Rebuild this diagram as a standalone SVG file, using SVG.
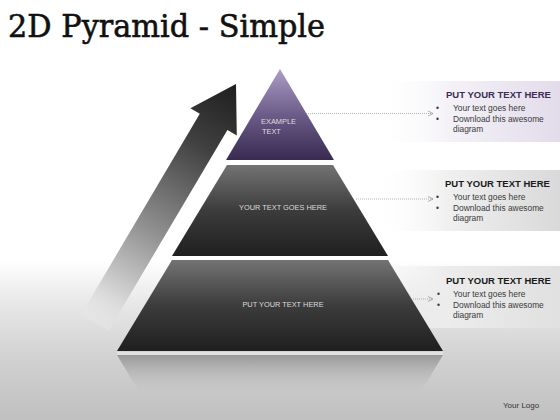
<svg xmlns="http://www.w3.org/2000/svg" width="560" height="420" viewBox="0 0 560 420">
<defs>
<linearGradient id="bg" x1="0" y1="0" x2="0" y2="420" gradientUnits="userSpaceOnUse">
<stop offset="0" stop-color="#ffffff"/>
<stop offset="0.62" stop-color="#ffffff"/>
<stop offset="0.72" stop-color="#e8e8e8"/>
<stop offset="0.86" stop-color="#d0d0d0"/>
<stop offset="1" stop-color="#c0c0c0"/>
</linearGradient>
<linearGradient id="grey" x1="0" y1="0" x2="0" y2="1">
<stop offset="0" stop-color="#737373"/>
<stop offset="0.5" stop-color="#3c3c3c"/>
<stop offset="1" stop-color="#1f1f1f"/>
</linearGradient>
<linearGradient id="purple" x1="0" y1="0" x2="0" y2="1">
<stop offset="0" stop-color="#ab9ec6"/>
<stop offset="0.5" stop-color="#6c5c89"/>
<stop offset="1" stop-color="#382a50"/>
</linearGradient>
<linearGradient id="refl" x1="0" y1="355" x2="0" y2="395" gradientUnits="userSpaceOnUse">
<stop offset="0" stop-color="#8a8a8a" stop-opacity="0.8"/>
<stop offset="1" stop-color="#c0c0c0" stop-opacity="0"/>
</linearGradient>
<linearGradient id="arrowg" x1="236" y1="84" x2="92" y2="326" gradientUnits="userSpaceOnUse">
<stop offset="0" stop-color="#1e1e1e"/>
<stop offset="0.25" stop-color="#404040"/>
<stop offset="0.6" stop-color="#909090"/>
<stop offset="0.85" stop-color="#d2d2d2"/>
<stop offset="1" stop-color="#ececec" stop-opacity="0.3"/>
</linearGradient>
<linearGradient id="panelP" x1="0" y1="0" x2="1" y2="0">
<stop offset="0" stop-color="#ffffff" stop-opacity="0"/>
<stop offset="0.4" stop-color="#f4f2f7"/>
<stop offset="1" stop-color="#e2dcea"/>
</linearGradient>
<linearGradient id="panelG" x1="0" y1="0" x2="1" y2="0">
<stop offset="0" stop-color="#ffffff" stop-opacity="0"/>
<stop offset="0.4" stop-color="#f0f0f0"/>
<stop offset="1" stop-color="#d9d9d9"/>
</linearGradient>
<linearGradient id="panelG3" x1="0" y1="0" x2="1" y2="0">
<stop offset="0" stop-color="#f4f4f4" stop-opacity="0"/>
<stop offset="0.4" stop-color="#ececec"/>
<stop offset="1" stop-color="#e0e0e0"/>
</linearGradient>
<marker id="chev" viewBox="0 0 6 6" refX="5.5" refY="3" markerWidth="6" markerHeight="6" markerUnits="userSpaceOnUse" orient="auto">
<path d="M0.5,0.5 L5.5,3 L0.5,5.5" fill="none" stroke="#9a9a9a" stroke-width="0.8"/>
</marker>
</defs>
<style>
.tier{font-family:"Liberation Sans",Arial,sans-serif;font-size:7.4px;fill:#dcdcdc;text-anchor:middle}
.head{font-family:"Liberation Sans",Arial,sans-serif;font-size:9.5px;font-weight:bold;fill:#1a1a1a}
.body{font-family:"Liberation Sans",Arial,sans-serif;font-size:8.4px;fill:#3a3a3a}
.conn{fill:none;stroke:#a0a0a0;stroke-width:0.8;stroke-dasharray:1 1}
</style>
<rect x="0" y="0" width="560" height="420" fill="url(#bg)"/>
<text x="8" y="37" font-family="'DejaVu Serif','Liberation Serif',serif" font-size="32" fill="#111" stroke="#111" stroke-width="0.6" textLength="317" lengthAdjust="spacingAndGlyphs">2D Pyramid - Simple</text>

<g id="panel-1">
<rect x="372" y="81" width="188" height="61" fill="url(#panelP)"/>
<text class="head" x="446" y="98" style="fill:#3b2c55">PUT YOUR TEXT HERE</text>
<text class="body" x="436" y="111">•</text>
<text class="body" x="453" y="111">Your text goes here</text>
<text class="body" x="436" y="121.5">•</text>
<text class="body" x="453" y="121.5">Download this awesome</text>
<text class="body" x="453" y="132">diagram</text>
</g>
<g id="panel-2">
<rect x="372" y="170" width="188" height="61" fill="url(#panelG)"/>
<text class="head" x="445" y="187">PUT YOUR TEXT HERE</text>
<text class="body" x="436" y="200">•</text>
<text class="body" x="453" y="200">Your text goes here</text>
<text class="body" x="436" y="210.5">•</text>
<text class="body" x="453" y="210.5">Download this awesome</text>
<text class="body" x="453" y="221">diagram</text>
</g>
<g id="panel-3">
<rect x="372" y="266" width="188" height="62" fill="url(#panelG3)"/>
<text class="head" x="446" y="284">PUT YOUR TEXT HERE</text>
<text class="body" x="437" y="297">•</text>
<text class="body" x="453" y="297">Your text goes here</text>
<text class="body" x="437" y="307.5">•</text>
<text class="body" x="453" y="307.5">Download this awesome</text>
<text class="body" x="453" y="318">diagram</text>
</g>

<g id="arrow">
<polygon points="236,84 236.8,135.6 227.4,130 108.8,330.6 81.2,314.4 199.8,113.8 190.4,108.2" fill="url(#arrowg)"/>
</g>

<g id="reflection">
<rect x="117" y="352" width="326" height="3" fill="#e2e2e2"/>
<polygon points="117,355 443,355 419,395 141,395" fill="url(#refl)"/>
</g>

<g id="tier-bottom">
<polygon points="172,260 388,260 443,351 117,351" fill="url(#grey)"/>
<text class="tier" x="283" y="307">PUT YOUR TEXT HERE</text>
</g>
<g id="tier-middle">
<polygon points="227,165 333,165 388,256 172,256" fill="url(#grey)"/>
<text class="tier" x="283" y="210">YOUR TEXT GOES HERE</text>
</g>
<g id="tier-top">
<polygon points="280,69 334,160 226,160" fill="url(#purple)"/>
<text class="tier" x="278.5" y="124">EXAMPLE</text>
<text class="tier" x="262" y="134" style="text-anchor:start">TEXT</text>
</g>

<g id="connectors">
<line class="conn" x1="306" y1="113.5" x2="433" y2="113.5" marker-end="url(#chev)"/>
<line class="conn" x1="356" y1="199" x2="433" y2="199" marker-end="url(#chev)"/>
<line class="conn" x1="413" y1="299" x2="433" y2="299" marker-end="url(#chev)"/>
</g>

<text x="503" y="408" font-family="'Liberation Sans',Arial,sans-serif" font-size="8" fill="#333">Your Logo</text>
</svg>
